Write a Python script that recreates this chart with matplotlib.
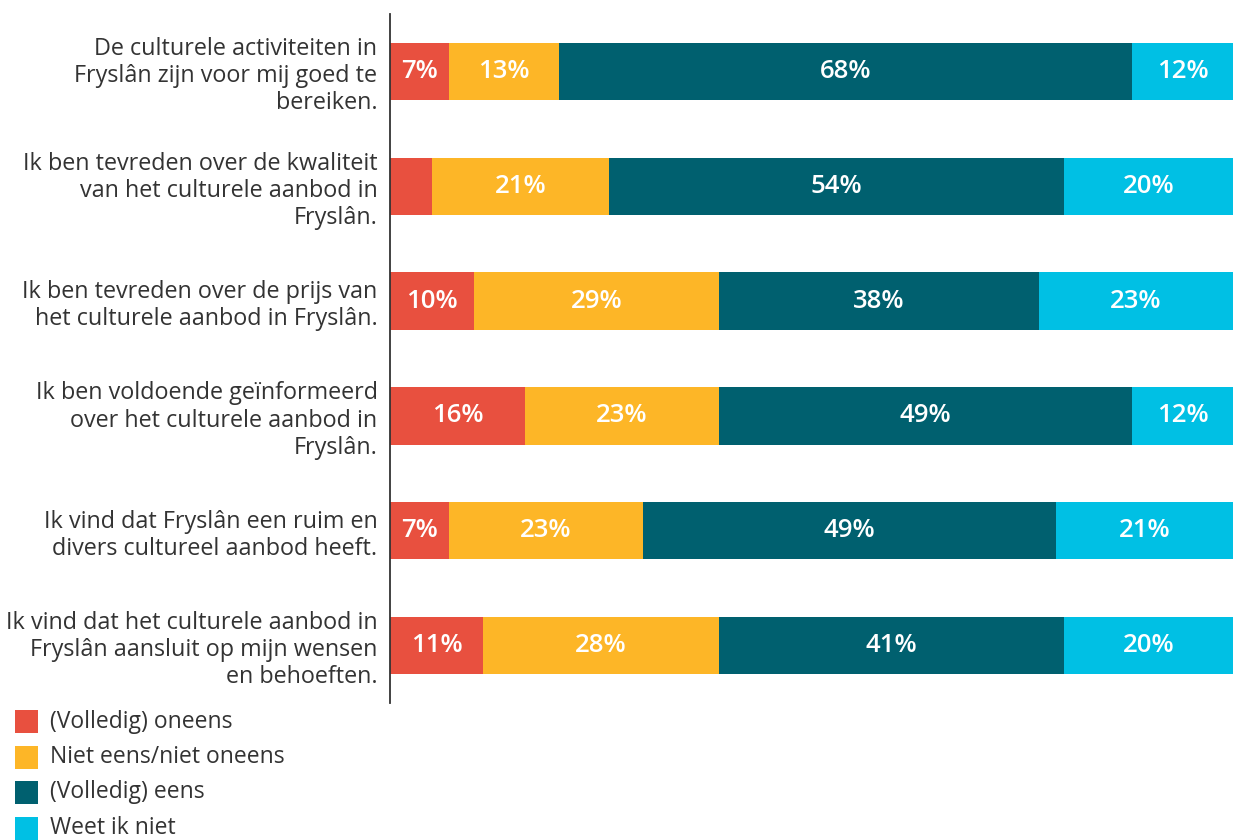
import matplotlib
matplotlib.use("Agg")
import matplotlib.pyplot as plt
from matplotlib.patches import Rectangle

plt.rcParams['font.family'] = ['Open Sans', 'DejaVu Sans']

categories = [
    "De culturele activiteiten in\nFryslân zijn voor mij goed te\nbereiken.",
    "Ik ben tevreden over de kwaliteit\nvan het culturele aanbod in\nFryslân.",
    "Ik ben tevreden over de prijs van\nhet culturele aanbod in Fryslân.",
    "Ik ben voldoende geïnformeerd\nover het culturele aanbod in\nFryslân.",
    "Ik vind dat Fryslân een ruim en\ndivers cultureel aanbod heeft.",
    "Ik vind dat het culturele aanbod in\nFryslân aansluit op mijn wensen\nen behoeften.",
]
series_names = ["(Volledig) oneens", "Niet eens/niet oneens", "(Volledig) eens", "Weet ik niet"]
oneens = [7, 5, 10, 16, 7, 11]
neutraal = [13, 21, 29, 23, 23, 28]
eens = [68, 54, 38, 49, 49, 41]
weet_niet = [12, 20, 23, 12, 21, 20]
show_label = [
    [True, False, True, True, True, True],
    [True] * 6,
    [True] * 6,
    [True] * 6,
]
colors = ["#E8503F", "#FDB627", "#00606F", "#00C0E4"]

W, H = 1233, 840
fig = plt.figure(figsize=(W / 100, H / 100), dpi=100)
ax = fig.add_axes([390 / W, (H - 703) / H, 1 - 390 / W, (703 - 14) / H])

series = [oneens, neutraal, eens, weet_niet]
y = list(range(len(categories)))
left = [0] * len(categories)
for s, (vals, col) in enumerate(zip(series, colors)):
    bars = ax.barh(y, vals, left=left, height=0.5, color=col, edgecolor="none")
    for i, (b, v) in enumerate(zip(bars, vals)):
        if show_label[s][i]:
            ax.text(left[i] + v / 2, i, f"{v}%", ha="center", va="center",
                    color="white", fontsize=18.5, fontweight="semibold")
    left = [l + v for l, v in zip(left, vals)]

ax.set_xlim(0, 100)
ax.set_ylim(len(categories) - 0.5, -0.5)
ax.set_yticks(y)
ax.set_yticklabels(categories, fontsize=16.8, color="#333333", linespacing=1.18)
ax.tick_params(axis="y", length=0, pad=9)
ax.set_xticks([])
for sp in ["top", "right", "bottom"]:
    ax.spines[sp].set_visible(False)
ax.spines["left"].set_color("#333333")
ax.spines["left"].set_linewidth(1.3)

# legend
for k, (name, col) in enumerate(zip(series_names, colors)):
    ytop = 710 + k * 35.5
    fig.patches.append(Rectangle((15 / W, 1 - (ytop + 23) / H), 23 / W, 23 / H,
                                 transform=fig.transFigure, facecolor=col, edgecolor="none"))
    fig.text(50 / W, 1 - (ytop + 11.5) / H, name, fontsize=16.5, color="#333333",
             ha="left", va="center")

fig.savefig("out.png", dpi=100)
